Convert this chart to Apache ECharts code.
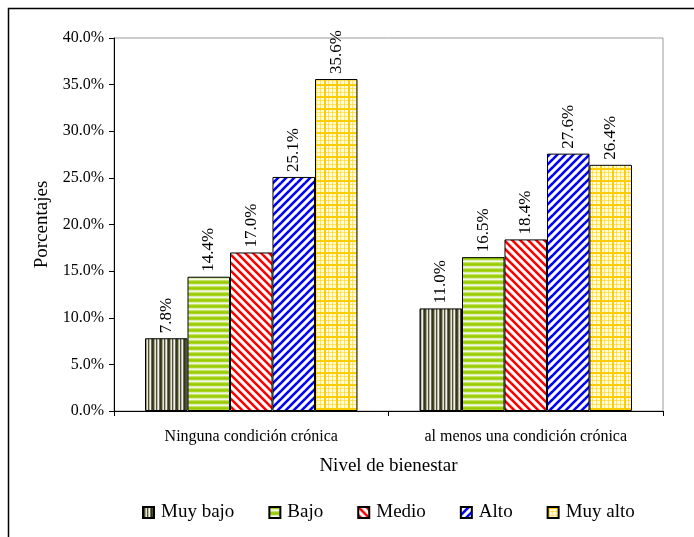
<!DOCTYPE html>
<html>
<head>
<meta charset="utf-8">
<script src="https://cdn.jsdelivr.net/npm/echarts@6/dist/echarts.min.js"></script>
<style>
  html, body { margin: 0; padding: 0; background: #fff; }
  #chart { width: 694px; height: 537px; }
</style>
</head>
<body>
<div id="chart"></div>
<script>
// Well-being level by chronic-condition status (percentages)
const categories = ['Ninguna condición crónica', 'al menos una condición crónica'];
const levels = ['Muy bajo', 'Bajo', 'Medio', 'Alto', 'Muy alto'];
const muyBajo = [7.8, 11.0];
const bajo = [14.4, 16.5];
const medio = [17.0, 18.4];
const alto = [25.1, 27.6];
const muyAlto = [35.6, 26.4];
const yMin = 0, yMax = 40, yStep = 5;

const FONT = '"Liberation Serif", "Times New Roman", serif';

// ---- fill patterns drawn on small tiles ----
function tile(w, h, draw) {
  const c = document.createElement('canvas');
  c.width = w; c.height = h;
  const ctx = c.getContext('2d');
  draw(ctx, w, h);
  return { image: c, repeat: 'repeat' };
}

// dark olive vertical stripes
const patVertical = tile(8, 8, (ctx, w, h) => {
  const cols = ['#33331a', '#4a4a2c', '#a4a48c', '#e6e6da', '#50503a', '#bcbcaa', '#f2f2ea', '#6c6c52'];
  cols.forEach((c, i) => { ctx.fillStyle = c; ctx.fillRect(i, 0, 1, h); });
});

// green horizontal stripes
const patHorizontal = tile(8, 6, (ctx, w, h) => {
  const rows = ['#99cc00', '#a9d426', '#dcedb4', '#f3f9e4', '#c4e16a', '#a3d118'];
  rows.forEach((c, i) => { ctx.fillStyle = c; ctx.fillRect(0, i, w, 1); });
});

// diagonal stripes; dir = 1 for "\" , -1 for "/"
function diagonal(color, dir) {
  return tile(8, 8, (ctx, w, h) => {
    ctx.fillStyle = '#ffffff';
    ctx.fillRect(0, 0, w, h);
    ctx.strokeStyle = color;
    ctx.lineWidth = 2.6;
    for (let k = -1; k <= 1; k++) {
      ctx.beginPath();
      if (dir > 0) {
        ctx.moveTo(k * w - 1, -1);
        ctx.lineTo(k * w + w + 1, h + 1);
      } else {
        ctx.moveTo(k * w - 1, h + 1);
        ctx.lineTo(k * w + w + 1, -1);
      }
      ctx.stroke();
    }
  });
}
const patRed = diagonal('#ff0000', 1);
const patBlue = diagonal('#0000ff', -1);

// yellow plaid grid
const patGrid = tile(12, 12, (ctx, w, h) => {
  ctx.fillStyle = '#fffbe8';
  ctx.fillRect(0, 0, w, h);
  ctx.fillStyle = 'rgba(255, 204, 0, 0.5)';
  [4, 8].forEach(p => { ctx.fillRect(p, 0, 1, h); ctx.fillRect(0, p, w, 1); });
  ctx.fillStyle = '#ffcc00';
  ctx.fillRect(0, 0, 2, h);
  ctx.fillRect(0, 0, w, 2);
});

const patterns = [patVertical, patHorizontal, patRed, patBlue, patGrid];
const seriesData = [muyBajo, bajo, medio, alto, muyAlto];

const chart = echarts.init(document.getElementById('chart'));

chart.setOption({
  animation: false,
  backgroundColor: '#ffffff',
  textStyle: { fontFamily: FONT },
  graphic: [{
    type: 'rect',
    shape: { x: 8.5, y: 8.5, width: 700, height: 560 },
    style: { fill: 'none', stroke: '#000', lineWidth: 1.5 },
    silent: true
  }],
  grid: {
    left: 114, right: 31, top: 38, bottom: 126,
    show: true, borderColor: '#9a9a9a', borderWidth: 1
  },
  legend: {
    left: 137, top: 498,
    itemWidth: 11, itemHeight: 11, itemGap: 34,
    icon: 'rect',
    textStyle: { fontFamily: FONT, fontSize: 19, color: '#000', padding: [0, 0, 0, 2] },
    data: levels
  },
  xAxis: {
    type: 'category',
    data: categories,
    name: 'Nivel de bienestar',
    nameLocation: 'middle',
    nameGap: 46,
    nameTextStyle: { fontFamily: FONT, fontSize: 19, color: '#000' },
    axisLine: { lineStyle: { color: '#000', width: 1 } },
    axisTick: { show: true, length: 5, lineStyle: { color: '#000' } },
    axisLabel: { fontFamily: FONT, fontSize: 16, color: '#000', margin: 18 },
    splitLine: { show: false }
  },
  yAxis: {
    type: 'value',
    min: yMin, max: yMax, interval: yStep,
    name: 'Porcentajes',
    nameLocation: 'middle',
    nameGap: 61,
    nameTextStyle: { fontFamily: FONT, fontSize: 19, color: '#000' },
    axisLine: { show: true, lineStyle: { color: '#000', width: 1 } },
    axisTick: { show: true, length: 5, lineStyle: { color: '#000' } },
    axisLabel: {
      fontFamily: FONT, fontSize: 16, color: '#000', margin: 10,
      formatter: v => v.toFixed(1) + '%'
    },
    splitLine: { show: false }
  },
  series: levels.map((name, i) => ({
    name,
    type: 'bar',
    data: seriesData[i],
    barGap: '0%',
    barCategoryGap: '22.6%',
    itemStyle: { color: patterns[i], borderColor: '#000', borderWidth: 1 },
    label: {
      show: true,
      position: 'top',
      rotate: 90,
      align: 'left',
      verticalAlign: 'middle',
      distance: 5,
      fontFamily: FONT,
      fontSize: 17,
      color: '#000',
      formatter: p => p.value.toFixed(1) + '%'
    }
  }))
});
</script>
</body>
</html>
